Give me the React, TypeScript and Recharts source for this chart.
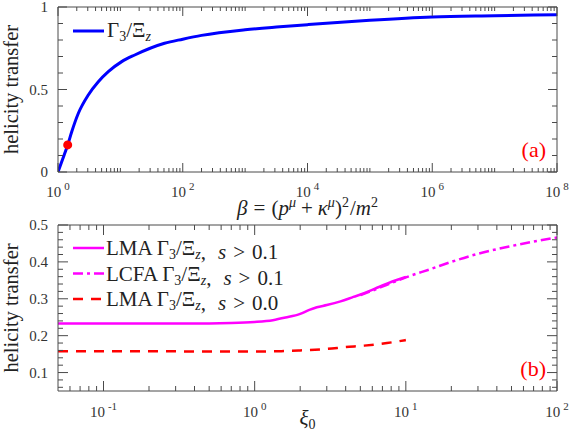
import {
  ComposedChart,
  Line,
  XAxis,
  YAxis,
  ReferenceDot,
  Legend,
  Label,
} from "recharts";

// panel (a): helicity transfer vs beta
const betaGrid = [1, 1.26, 1.43, 1.66, 2.12, 3.06, 4.43, 6.4, 10.5, 17, 51, 100, 200, 1000, 3600, 1e4, 1e5, 1e6, 1e7, 1e8];
const transferA = [0, 0.105, 0.164, 0.244, 0.356, 0.467, 0.547, 0.608, 0.669, 0.709, 0.78, 0.805, 0.828, 0.862, 0.88, 0.893, 0.92, 0.94, 0.947, 0.953];
const dotBeta = 1.43;
const dotValue = 0.164;

// panel (b): helicity transfer vs xi0
const xiLmaCut = [0.05, 0.1, 0.2, 0.5, 0.7, 1.0, 1.32, 1.6, 2.0, 2.3, 2.58, 3.0, 3.7, 4.5, 5.3, 6.3, 7.5, 8.7, 10];
const lmaCut = [0.233, 0.233, 0.233, 0.233, 0.234, 0.237, 0.242, 0.249, 0.259, 0.27, 0.277, 0.283, 0.293, 0.305, 0.315, 0.328, 0.341, 0.351, 0.359];
const xiLcfa = [5.0, 6.0, 7.5, 10, 14.7, 20, 30, 50, 70, 100];
const lcfaCut = [0.31, 0.322, 0.338, 0.358, 0.381, 0.4, 0.422, 0.443, 0.455, 0.466];
const xiLmaAll = [0.05, 0.2, 0.5, 1.0, 1.5, 2.0, 3.0, 4.0, 5.3, 7.5, 10];
const lmaAll = [0.158, 0.158, 0.157, 0.157, 0.158, 0.16, 0.164, 0.169, 0.173, 0.18, 0.188];

const seriesNamesB = ["LMA s>0.1", "LCFA s>0.1", "LMA s>0.0"];
const legendPrefixB = ["LMA", "LCFA", "LMA"];
const legendCutB = ["0.1", "0.1", "0.0"];

// tick labels
const topXMajor = [1, 1e2, 1e4, 1e6, 1e8];
const topYMajor = [0, 0.5, 1];
const botXMajor = [0.1, 1, 10, 100];
const botYMajor = [0.1, 0.2, 0.3, 0.4, 0.5];

const FONT = '"Liberation Serif", "DejaVu Serif", serif';
const AXIS = "#4a4a4a";
const TEXT = "#333";

const pts = (xs: number[], ys: number[]) => xs.map((x, i) => ({ x, y: ys[i] }));

function logTicks(lo: number, hi: number) {
  const out: number[] = [];
  for (let d = Math.floor(Math.log10(lo)) - 1; d <= Math.ceil(Math.log10(hi)); d++) {
    for (let k = 1; k <= 9; k++) {
      const v = Number((k * Math.pow(10, d)).toPrecision(6));
      if (v >= lo * 0.999999 && v <= hi * 1.000001) out.push(v);
    }
  }
  return out;
}

function linTicks(lo: number, hi: number, step: number) {
  const out: number[] = [];
  for (let v = lo; v <= hi + step / 2; v += step) out.push(Number(v.toFixed(4)));
  return out;
}

const isMajor = (v: number, majors: number[]) =>
  majors.some((m) => Math.abs(v - m) <= Math.abs(m) * 1e-6 + 1e-9);

const xTick =
  (majors: number[], side: "bottom" | "top", majorLen: number, minorLen: number, labelDy: number) =>
  (props: any) => {
    const { x, y, payload } = props;
    const v = payload.value as number;
    const major = isMajor(v, majors);
    const dir = side === "bottom" ? -1 : 1;
    return (
      <g>
        <line x1={x} x2={x} y1={y} y2={y + dir * (major ? majorLen : minorLen)} stroke={AXIS} strokeWidth={1} />
        {major && side === "bottom" && (
          <text x={x} y={y + labelDy} textAnchor="middle" fontSize={15} fill={TEXT}>
            10
            <tspan dx={3} dy={-7} fontSize={11}>
              {Math.round(Math.log10(v))}
            </tspan>
          </text>
        )}
      </g>
    );
  };

const yTick =
  (majors: number[], side: "left" | "right", majorLen: number, minorLen: number) =>
  (props: any) => {
    const { x, y, payload } = props;
    const v = payload.value as number;
    const major = isMajor(v, majors);
    const dir = side === "left" ? 1 : -1;
    return (
      <g>
        <line x1={x} x2={x + dir * (major ? majorLen : minorLen)} y1={y} y2={y} stroke={AXIS} strokeWidth={1} />
        {major && side === "left" && (
          <text x={x - 10} y={y} dy={5} textAnchor="end" fontSize={15} fill={TEXT}>
            {String(v)}
          </text>
        )}
      </g>
    );
  };

function YTitle(props: any) {
  const vb = props.viewBox ?? { x: 0, y: 0, width: 58, height: 165 };
  const cx = vb.x + 18;
  const cy = vb.y + vb.height / 2;
  return (
    <text x={cx} y={cy} transform={`rotate(-90 ${cx} ${cy})`} textAnchor="middle" fontSize={20.5} fill="#222">
      helicity transfer
    </text>
  );
}

function BetaTitle(props: any) {
  const vb = props.viewBox ?? { x: 58, y: 172, width: 499, height: 50 };
  const cx = vb.x + vb.width / 2;
  const by = vb.y + 43;
  return (
    <text x={cx} y={by} textAnchor="middle" fontSize={21} fill="#222">
      <tspan fontStyle="italic">β</tspan>
      <tspan dx={6}>=</tspan>
      <tspan dx={6}>(</tspan>
      <tspan fontStyle="italic">p</tspan>
      <tspan dy={-8} fontSize={14} fontStyle="italic">μ</tspan>
      <tspan dy={8} dx={5}>+</tspan>
      <tspan dx={5} fontStyle="italic">κ</tspan>
      <tspan dy={-8} fontSize={14} fontStyle="italic">μ</tspan>
      <tspan dy={8}>)</tspan>
      <tspan dy={-8} fontSize={14}>2</tspan>
      <tspan dy={8} dx={1}>/</tspan>
      <tspan fontStyle="italic">m</tspan>
      <tspan dy={-8} fontSize={14}>2</tspan>
    </text>
  );
}

function XiTitle(props: any) {
  const vb = props.viewBox ?? { x: 58, y: 391, width: 499, height: 42 };
  const cx = vb.x + vb.width / 2;
  const by = vb.y + 34;
  return (
    <text x={cx} y={by} textAnchor="middle" fontSize={21} fill="#222">
      <tspan fontStyle="italic">ξ</tspan>
      <tspan dy={4} fontSize={14}>0</tspan>
    </text>
  );
}

const GammaXi = () => (
  <>
    {"Γ"}
    <tspan dy={4} fontSize={14}>3</tspan>
    <tspan dy={-4}>/Ξ</tspan>
    <tspan dy={4} fontSize={14} fontStyle="italic">z</tspan>
    <tspan dy={-4}>{""}</tspan>
  </>
);

const legendA = (props: any) => {
  const entry = (props.payload ?? [])[0] ?? { color: "#0000ff" };
  return (
    <svg width={120} height={30} style={{ overflow: "visible", fontFamily: FONT }}>
      <line x1={3} x2={34} y1={12} y2={12} stroke={entry.color} strokeWidth={3} />
      <text x={37} y={18} fontSize={21} fill="#222">
        <GammaXi />
      </text>
    </svg>
  );
};

const legendB = (props: any) => {
  const payload = [...(props.payload ?? [])].sort(
    (a: any, b: any) => seriesNamesB.indexOf(a.value) - seriesNamesB.indexOf(b.value)
  );
  return (
    <svg width={260} height={80} style={{ overflow: "visible", fontFamily: FONT }}>
      {payload.map((entry: any) => {
        const i = seriesNamesB.indexOf(entry.value);
        const ly = 12 + i * 25.5;
        return (
          <g key={entry.value}>
            <line
              x1={3}
              x2={34}
              y1={ly}
              y2={ly}
              stroke={entry.color}
              strokeWidth={2.5}
              strokeDasharray={entry.payload?.strokeDasharray}
            />
            <text x={36} y={ly + 7} fontSize={21} fill="#222">
              {legendPrefixB[i] + " "}
              <GammaXi />
              <tspan>,</tspan>
              <tspan dx={12} fontStyle="italic">s</tspan>
              <tspan dx={7}>{">"}</tspan>
              <tspan dx={7}>{legendCutB[i]}</tspan>
            </text>
          </g>
        );
      })}
    </svg>
  );
};

const axisCommon = {
  allowDataOverflow: true,
  interval: 0 as const,
  tickSize: 0,
  tickMargin: 0,
  tickLine: false,
  stroke: AXIS,
};

function App() {
  const topXTicks = logTicks(1, 1e8);
  const topYTicks = linTicks(0, 1, 0.1);
  const botXTicks = logTicks(0.06, 100);
  const botYTicks = linTicks(0.06, 0.5, 0.02);

  return (
    <div
      style={{
        position: "absolute",
        left: 0,
        top: 0,
        width: 570,
        height: 433,
        background: "#fff",
        fontFamily: FONT,
      }}
    >
      <div style={{ position: "absolute", left: 0, top: 0 }}>
        <ComposedChart width={570} height={222} margin={{ top: 0, right: 0, bottom: 0, left: 0 }}>
          <XAxis
            xAxisId="b"
            dataKey="x"
            type="number"
            scale="log"
            domain={[1, 1e8]}
            ticks={topXTicks}
            height={50}
            tick={xTick(topXMajor, "bottom", 9, 4, 25)}
            {...axisCommon}
          >
            <Label content={BetaTitle} />
          </XAxis>
          <XAxis
            xAxisId="t"
            orientation="top"
            dataKey="x"
            type="number"
            scale="log"
            domain={[1, 1e8]}
            ticks={topXTicks}
            height={7}
            tick={xTick(topXMajor, "top", 9, 4, 0)}
            {...axisCommon}
          />
          <YAxis
            yAxisId="l"
            type="number"
            domain={[0, 1]}
            ticks={topYTicks}
            width={58}
            tick={yTick(topYMajor, "left", 9, 5)}
            {...axisCommon}
          >
            <Label content={YTitle} />
          </YAxis>
          <YAxis
            yAxisId="r"
            orientation="right"
            type="number"
            domain={[0, 1]}
            ticks={topYTicks}
            width={13}
            tick={yTick(topYMajor, "right", 9, 5)}
            {...axisCommon}
          />
          <Line
            xAxisId="b"
            yAxisId="l"
            data={pts(betaGrid, transferA)}
            dataKey="y"
            name="Γ3/Ξz"
            type="monotone"
            stroke="#0000ff"
            strokeWidth={3}
            dot={false}
            isAnimationActive={false}
          />
          <ReferenceDot xAxisId="b" yAxisId="l" x={dotBeta} y={dotValue} r={4.5} fill="#ff0000" stroke="none" />
          <Legend
            layout="vertical"
            align="center"
            verticalAlign="middle"
            wrapperStyle={{ left: 70, top: 19, width: 120 }}
            content={legendA}
          />
        </ComposedChart>
      </div>

      <div style={{ position: "absolute", left: 0, top: 215 }}>
        <ComposedChart width={570} height={218} margin={{ top: 0, right: 0, bottom: 0, left: 0 }}>
          <XAxis
            xAxisId="b"
            dataKey="x"
            type="number"
            scale="log"
            domain={[0.05, 100]}
            ticks={botXTicks}
            height={42}
            tick={xTick(botXMajor, "bottom", 10, 5, 26)}
            {...axisCommon}
          >
            <Label content={XiTitle} />
          </XAxis>
          <XAxis
            xAxisId="t"
            orientation="top"
            dataKey="x"
            type="number"
            scale="log"
            domain={[0.05, 100]}
            ticks={botXTicks}
            height={10}
            tick={xTick(botXMajor, "top", 10, 5, 0)}
            {...axisCommon}
          />
          <YAxis
            yAxisId="l"
            type="number"
            domain={[0.05, 0.5]}
            ticks={botYTicks}
            width={58}
            tick={yTick(botYMajor, "left", 10, 5)}
            {...axisCommon}
          >
            <Label content={YTitle} />
          </YAxis>
          <YAxis
            yAxisId="r"
            orientation="right"
            type="number"
            domain={[0.05, 0.5]}
            ticks={botYTicks}
            width={13}
            tick={yTick(botYMajor, "right", 10, 5)}
            {...axisCommon}
          />
          <Line
            xAxisId="b"
            yAxisId="l"
            data={pts(xiLmaCut, lmaCut)}
            dataKey="y"
            name={seriesNamesB[0]}
            type="monotone"
            stroke="#ff00ff"
            strokeWidth={2.5}
            dot={false}
            isAnimationActive={false}
          />
          <Line
            xAxisId="b"
            yAxisId="l"
            data={pts(xiLcfa, lcfaCut)}
            dataKey="y"
            name={seriesNamesB[1]}
            type="monotone"
            stroke="#ff00ff"
            strokeWidth={2.5}
            strokeDasharray="10 4 3 4"
            dot={false}
            isAnimationActive={false}
          />
          <Line
            xAxisId="b"
            yAxisId="l"
            data={pts(xiLmaAll, lmaAll)}
            dataKey="y"
            name={seriesNamesB[2]}
            type="monotone"
            stroke="#ff0000"
            strokeWidth={2.5}
            strokeDasharray="10 8"
            dot={false}
            isAnimationActive={false}
          />
          <Legend
            layout="vertical"
            align="center"
            verticalAlign="middle"
            wrapperStyle={{ left: 70, top: 21, width: 260 }}
            content={legendB}
          />
        </ComposedChart>
      </div>

      <svg
        width={570}
        height={433}
        style={{ position: "absolute", left: 0, top: 0, pointerEvents: "none", fontFamily: FONT }}
      >
        <text x={546} y={157} textAnchor="end" fontSize={22} fill="#ff0000">
          (a)
        </text>
        <text x={546} y={376} textAnchor="end" fontSize={22} fill="#ff0000">
          (b)
        </text>
      </svg>
    </div>
  );
}

export default App;
